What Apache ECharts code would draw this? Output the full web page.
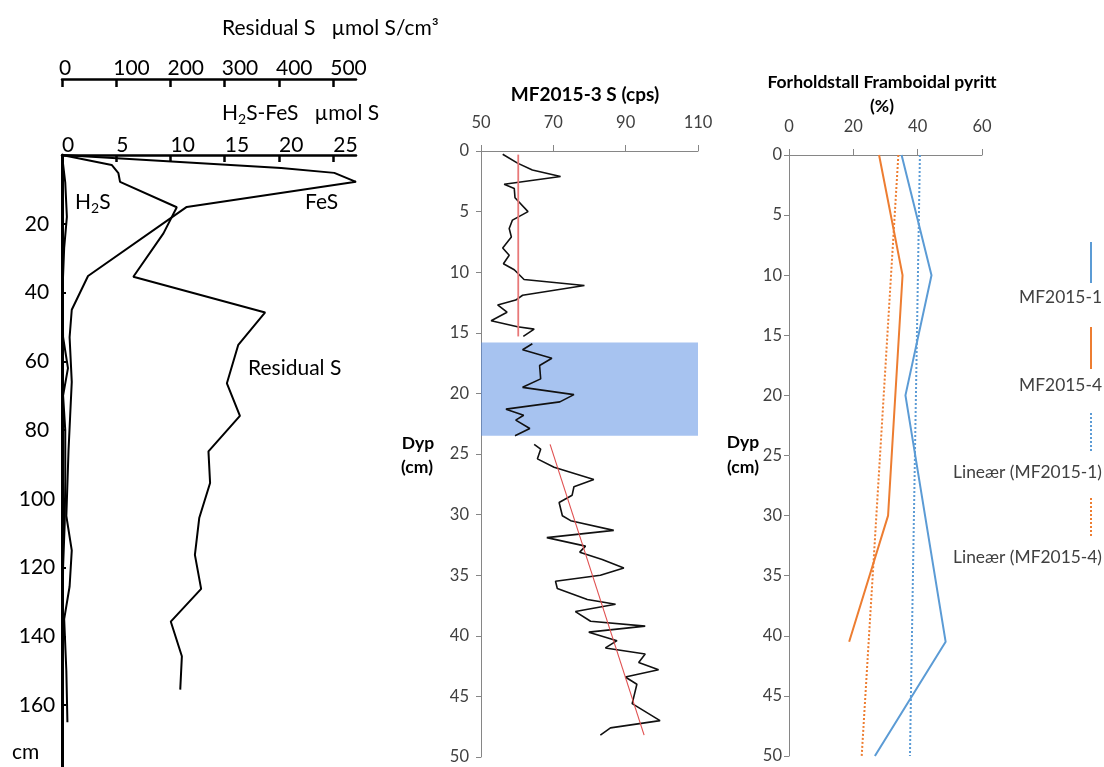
<!DOCTYPE html>
<html><head><meta charset="utf-8">
<script src="https://cdn.jsdelivr.net/npm/echarts@6/dist/echarts.min.js"></script>
<style>html,body{margin:0;padding:0;background:#fff}#c{width:1104px;height:767px}</style>
</head><body><div id="c"></div><script>
// ---------- Left panel: [value, depth cm] ----------
const h2sFesTicks = [0, 5, 10, 15, 20, 25];
const residualTicks = [0, 100, 200, 300, 400, 500];
const leftDepthTicks = [20, 40, 60, 80, 100, 120, 140, 160];
const fesData = [[0,0],[20.2,3.8],[25.1,5.2],[27.1,7.8],[11.5,15.1],[2.4,35.2],[0.9,45],[0.7,53],[0.9,66],[0.75,76],[0.6,86],[0.4,105],[0.9,115],[0.7,125.5],[0.2,135],[0.4,150],[0.5,165]];
const h2sData = [[0,0],[0.3,8],[0.45,18],[0.2,27],[0.05,39],[0.1,53],[0.55,62],[0.1,70],[0.3,80],[0.3,95],[0.25,107],[0.1,120],[0.05,136],[0.05,150],[0.1,160]];
const residualData = [[0,0],[91.6,2.9],[104,5.3],[107,7.8],[211.6,15.2],[187,22.8],[131.5,35.4],[374.5,45.8],[325,55.2],[304,66.4],[328,75.9],[270,86.2],[273,95.4],[253,105.6],[245,116.3],[256.5,126.2],[200.5,135.7],[221,145.8],[218,155.5]];

// ---------- Middle panel: MF2015-3 S (cps) [value, depth] ----------
const s3Top = [[56.0,0.27],[60.1,1.0],[64.2,1.57],[72.0,2.1],[56.4,2.75],[59.2,3.1],[59.4,3.86],[63.0,5.0],[58.7,5.7],[57.8,6.4],[58.4,7.1],[56.0,8.0],[57.8,8.6],[56.2,9.3],[59.2,9.8],[61.9,10.6],[78.6,11.1],[61.5,11.9],[59.6,12.3],[54.6,12.7],[57.2,13.3],[52.8,14.0],[60.1,14.5],[64.7,14.7],[61.7,15.3]];
const s3Mid = [[64.2,15.9],[61.5,16.4],[69.6,17.1],[66.2,17.7],[66.5,18.8],[61.5,19.5],[75.7,20.1],[71.8,20.7],[56.9,21.3],[61.8,21.8],[59.6,22.2],[63.5,22.9],[59.4,23.5]];
const s3Bot = [[64.7,24.2],[66.5,24.6],[65.6,25.4],[70.2,26.1],[81.2,27.1],[75.7,27.7],[75.2,28.4],[71.6,29.0],[72.5,30.1],[74.8,30.5],[86.7,31.3],[68.2,31.9],[78.9,32.6],[77.3,33.1],[83.5,33.7],[89.5,34.4],[83.0,35.0],[70.6,35.5],[71.1,36.1],[79.4,37.0],[87.2,37.4],[76.1,38.0],[80.3,38.8],[95.4,39.2],[79.8,39.7],[87.6,40.4],[84.4,41.0],[95.4,41.5],[93.6,42.2],[99.1,42.8],[89.9,43.4],[93.1,44.0],[91.8,45.6],[99.5,47.0],[85.8,47.6],[83.0,48.2]];
const s3TrendTop = [[60.3,0.3],[60.3,15.3]];
const s3TrendBot = [[69.1,24.2],[95.1,48.2]];
const bandDepth = [15.8, 23.5];

// ---------- Right panel: Framboidal pyritt (%) [value, depth] ----------
const mf1 = [[35.0,0],[44.3,10],[36.2,20],[48.7,40.5],[26.7,50]];
const mf4 = [[28.0,0],[35.3,10],[30.8,30],[18.7,40.5]];
const lin1 = [[40.7,0],[37.6,50]];
const lin4 = [[34.0,0],[22.6,50]];
const legendNames = ['MF2015-1','MF2015-4','Lineær (MF2015-1)','Lineær (MF2015-4)'];

const F = 'Lato, "Open Sans", sans-serif';
const GRAY = '#868686';
const BLUE = '#5b9bd5', ORANGE = '#ed7d31';
const LF = 21; // left panel font size

const chart = echarts.init(document.getElementById('c'), null, {renderer:'canvas'});

function blackTopAxis(extra){
  return Object.assign({
    type:'value', position:'top',
    axisLine:{show:true, onZero:false, lineStyle:{color:'#000', width:2.5}},
    splitLine:{show:false}
  }, extra);
}
function grayTopAxis(extra){
  return Object.assign({
    type:'value', position:'top',
    axisLine:{show:true, onZero:false, lineStyle:{color:GRAY, width:1}},
    axisTick:{show:true, inside:false, length:6, lineStyle:{color:GRAY}},
    axisLabel:{margin:20, fontSize:16.5, color:'#404040', fontFamily:F},
    splitLine:{show:false}
  }, extra);
}
function grayDepthAxis(extra){
  return Object.assign({
    type:'value', inverse:true, min:0, max:50, interval:5,
    axisLine:{show:true, onZero:false, lineStyle:{color:GRAY, width:1}},
    axisTick:{show:true, inside:false, length:5, lineStyle:{color:GRAY}},
    splitLine:{show:false}
  }, extra);
}

const lineS = (name, data, xi, yi, color, width, type, z) => ({
  name, type:'line', data, xAxisIndex:xi, yAxisIndex:yi, symbol:'none',
  lineStyle:{color, width, type: type || 'solid'}, itemStyle:{color}, z: z||2, animation:false
});

const txt = (x, y, text, size, opts) => ({
  type:'text', x, y, z:10,
  style:Object.assign({text, fontSize:size, fontFamily:F, fill:'#000', textAlign:'left', textVerticalAlign:'middle'}, (opts||{}))
});
const subRich = {
  a:{fontSize:LF, fontFamily:F, fill:'#000', lineHeight:26},
  s:{fontSize:14, fontFamily:F, fill:'#000', lineHeight:14, verticalAlign:'bottom'}
};

const option = {
  animation:false,
  backgroundColor:'#fff',
  grid:[
    {left:62, top:155, width:294, height:612},
    {left:481, top:151, width:217, height:606},
    {left:789, top:155, width:193, height:601}
  ],
  xAxis:[
    blackTopAxis({gridIndex:0, min:0, max:27.1,
      axisTick:{show:true, inside:true, length:7, lineStyle:{color:'#000', width:2.5}, customValues:h2sFesTicks},
      axisLabel:{margin:-1, align:'left', fontSize:LF, color:'#000', fontFamily:F, customValues:h2sFesTicks}}),
    blackTopAxis({gridIndex:0, min:0, max:542, offset:76,
      axisTick:{show:true, inside:true, length:8, lineStyle:{color:'#000', width:2.5}, customValues:residualTicks},
      axisLabel:{margin:0, align:'left', padding:[0,0,0,-3], fontSize:LF, color:'#000', fontFamily:F, customValues:residualTicks}}),
    grayTopAxis({gridIndex:1, min:50, max:110, interval:20}),
    grayTopAxis({gridIndex:2, min:0, max:60, interval:20, axisLabel:{margin:20, fontSize:16.5, color:'#404040', fontFamily:F}})
  ],
  yAxis:[
    {gridIndex:0, type:'value', inverse:true, min:0, max:178,
      axisLine:{show:true, onZero:false, lineStyle:{color:'#000', width:3}},
      axisTick:{show:true, inside:true, length:4, lineStyle:{color:'#000', width:2}, customValues:leftDepthTicks},
      axisLabel:{margin:25, align:'center', fontSize:LF, color:'#000', fontFamily:F, customValues:leftDepthTicks},
      splitLine:{show:false}},
    grayDepthAxis({gridIndex:1, axisLabel:{margin:12, fontSize:16.5, color:'#404040', fontFamily:F}}),
    grayDepthAxis({gridIndex:2, axisLabel:{margin:7, fontSize:16.5, color:'#404040', fontFamily:F}})
  ],
  series:[
    lineS('FeS', fesData, 0, 0, '#000', 2),
    lineS('H2S', h2sData, 0, 0, '#000', 2),
    lineS('Residual S', residualData, 1, 0, '#000', 2),
    lineS('S top', s3Top, 2, 1, '#111', 1.6),
    lineS('S mid', s3Mid, 2, 1, '#111', 1.6),
    lineS('S bot', s3Bot, 2, 1, '#111', 1.6),
    lineS('Trend top', s3TrendTop, 2, 1, '#e87878', 1.8, 'solid', 3),
    lineS('Trend bot', s3TrendBot, 2, 1, '#e05050', 1.1, 'solid', 3),
    {type:'line', data:[], xAxisIndex:2, yAxisIndex:1, z:5, animation:false,
      markArea:{silent:true, itemStyle:{color:'rgba(89,141,226,0.53)'},
        data:[[{xAxis:50, yAxis:bandDepth[0]},{xAxis:110, yAxis:bandDepth[1]}]]}},
    lineS(legendNames[0], mf1, 3, 2, BLUE, 2),
    lineS(legendNames[1], mf4, 3, 2, ORANGE, 2),
    lineS(legendNames[2], lin1, 3, 2, BLUE, 2, [2,2]),
    lineS(legendNames[3], lin4, 3, 2, ORANGE, 2, [2,2])
  ],
  graphic:[
    txt(222, 28, 'Residual S   µmol S/cm³', LF),
    txt(222, 113, '{a|H}{s|2}{a|S-FeS   µmol S}', LF, {rich:subRich}),
    txt(75, 202, '{a|H}{s|2}{a|S}', LF, {rich:subRich}),
    txt(305, 202, 'FeS', LF),
    txt(248, 368, 'Residual S', LF),
    txt(12, 752, 'cm', LF),
    txt(585, 95, 'MF2015-3 S (cps)', 19, {fontWeight:'bold', textAlign:'center'}),
    txt(418, 443, 'Dyp', 17.5, {fontWeight:'bold', textAlign:'center'}),
    txt(417, 467, '(cm)', 17.5, {fontWeight:'bold', textAlign:'center'}),
    txt(882, 82, 'Forholdstall Framboidal pyritt', 17.5, {fontWeight:'bold', textAlign:'center'}),
    txt(882, 106, '(%)', 17.5, {fontWeight:'bold', textAlign:'center'}),
    txt(743, 442, 'Dyp', 17.5, {fontWeight:'bold', textAlign:'center'}),
    txt(743, 467, '(cm)', 17.5, {fontWeight:'bold', textAlign:'center'}),
    // legend
    {type:'line', shape:{x1:1091,y1:242,x2:1091,y2:283}, style:{stroke:BLUE, lineWidth:2}},
    txt(1102, 297, legendNames[0], 17.4, {fill:'#404040', textAlign:'right'}),
    {type:'line', shape:{x1:1091,y1:327,x2:1091,y2:369}, style:{stroke:ORANGE, lineWidth:2}},
    txt(1102, 385, legendNames[1], 17.4, {fill:'#404040', textAlign:'right'}),
    {type:'line', shape:{x1:1091,y1:413,x2:1091,y2:453}, style:{stroke:BLUE, lineWidth:2, lineDash:[2,2]}},
    txt(1102, 472, legendNames[2], 17.4, {fill:'#404040', textAlign:'right'}),
    {type:'line', shape:{x1:1091,y1:498,x2:1091,y2:538}, style:{stroke:ORANGE, lineWidth:2, lineDash:[2,2]}},
    txt(1102, 557, legendNames[3], 17.4, {fill:'#404040', textAlign:'right'})
  ]
};
chart.setOption(option);
</script></body></html>
